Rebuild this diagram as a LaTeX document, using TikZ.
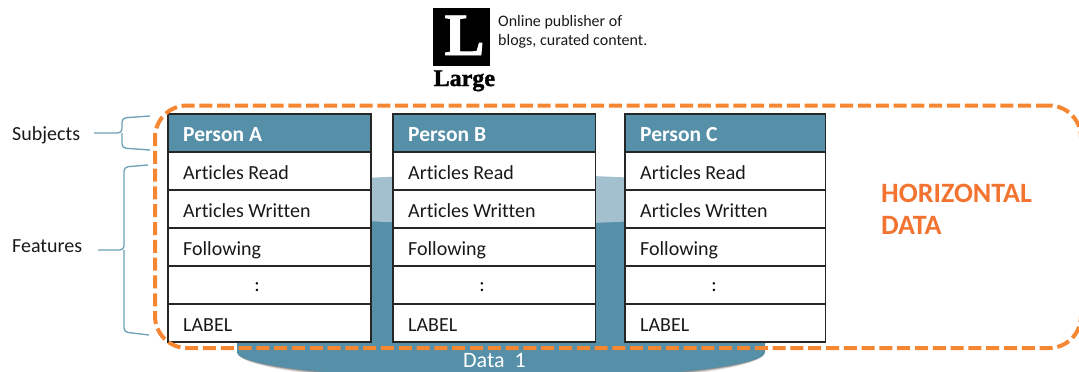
\documentclass[tikz,border=0pt]{standalone}
\usepackage{fontspec}
\setmainfont[RawFeature=-liga]{Carlito}
\newfontfamily\logoheavy[FakeBold=1.5]{Liberation Serif Bold}
\definecolor{teal1}{HTML}{568FA8}
\definecolor{tealL}{HTML}{A2C0CE}
\definecolor{orange1}{HTML}{F58733}
\definecolor{orangeT}{HTML}{F37430}
\definecolor{brace1}{HTML}{6BA0B6}
\tikzset{
  cell/.style={draw=black!85,line width=1.1pt,fill=white,minimum height=38pt,inner sep=0pt,outer sep=0pt,anchor=north west},
  celltext/.style={font=\fontsize{20}{22}\selectfont,text=black!90,anchor=base west,inner sep=0pt},
  headtext/.style={font=\fontsize{21.5}{22}\selectfont\bfseries,text=white,anchor=base west,inner sep=0pt},
  bracket/.style={draw=brace1,line width=1.3pt,rounded corners=4pt},
  label/.style={font=\fontsize{20}{22}\selectfont,text=black!90,anchor=base west,inner sep=0pt},
}
\begin{document}
\begin{tikzpicture}[x=1pt,y=-1pt]
\useasboundingbox (0,0) rectangle (1079,372);
\clip (0,0) rectangle (1079,372);
% cylinder
\foreach \o/\ow in {5/.06,4/.08,3/.10,2/.14,1/.18}{
  \fill[black,opacity=\ow] (237,352) arc[start angle=180,end angle=0,x radius=264,y radius={27+\o}] -- cycle;
}
\fill[teal1] (237,199) -- (237,352) arc[start angle=180,end angle=0,x radius=264,y radius=27] -- (765,199) -- cycle;
\fill[tealL] (501,199.5) ellipse[x radius=264,y radius=25];
% tables
\foreach \t/\x/\cw/\name in {a/168/203/Person A,b/393/202.5/Person B,c/625/200.5/Person C}{
  \node[cell,minimum width=\cw pt,fill=teal1] (\t0) at (\x,114) {};
  \node[cell,minimum width=\cw pt,anchor=north] (\t1) at (\t0.south) {};
  \node[cell,minimum width=\cw pt,anchor=north] (\t2) at (\t1.south) {};
  \node[cell,minimum width=\cw pt,anchor=north] (\t3) at (\t2.south) {};
  \node[cell,minimum width=\cw pt,anchor=north] (\t4) at (\t3.south) {};
  \node[cell,minimum width=\cw pt,anchor=north] (\t5) at (\t4.south) {};
  \node[headtext] (\t h) at ([xshift=15pt,yshift=-8pt]\t0.west) {\name};
  \node[celltext] (\t r) at ([xshift=15pt,yshift=-8.5pt]\t1.west) {Articles Read};
  \node[celltext] (\t w) at ([xshift=15pt,yshift=-8.5pt]\t2.west) {Articles Written};
  \node[celltext] (\t f) at ([xshift=15pt,yshift=-8.5pt]\t3.west) {Following};
  \node[font=\fontsize{20}{22}\selectfont,inner sep=0pt] (\t d) at ([xshift=89pt,yshift=-2pt]\t4.west) {:};
  \node[celltext] (\t l) at ([xshift=15pt,yshift=-8.5pt]\t5.west) {LABEL};
}
% dashed frame
\draw[orange1,line width=4pt,dash pattern=on 13pt off 4.8pt,rounded corners=32pt] (1081,105.5) -- (155,105.5) -- (155,348) -- (1081,348) -- cycle;
% data label
\node[font=\fontsize{22}{23}\selectfont,text=white,inner sep=0pt] (data) at (494.5,360.5) {Data\ \ 1};
% logo
\node[fill=black,minimum width=57pt,minimum height=58pt,inner sep=0pt,outer sep=0pt] (logo) at (461.5,37) {};
\node[text=white,font=\logoheavy\fontsize{60}{60}\selectfont,inner sep=0pt,anchor=base] (logoL) at (464.5,55) {L};
\node[font=\logoheavy\fontsize{24}{24}\selectfont,anchor=base west,inner sep=0pt,text=black] (large) at (433.5,86) {Large};
\node[font=\fontsize{16}{19}\selectfont,align=left,anchor=north west,inner sep=0pt,text=black!90] (desc) at (498,15.5) {Online publisher of\\blogs, curated content.};
% side labels
\node[label] (subj) at (12,140.5) {Subjects};
\node[label] (feat) at (12,252) {Features};
\coordinate (s0) at (94,133);
\coordinate (s1) at (150,116);
\coordinate (s2) at (150,150);
\coordinate (f0) at (98,250);
\coordinate (f1) at (148,165);
\coordinate (f2) at (149,335);
\draw[bracket] (s1) -- (122,118) -- (122,133) -- (s0);
\draw[bracket] (s2) -- (122,148) -- (122,133);
\draw[bracket] (f1) -- (124,167) -- (124,250) -- (f0);
\draw[bracket] (f2) -- (124,332) -- (124,250);
% horizontal data
\node[font=\fontsize{28}{32}\selectfont\bfseries,text=orangeT,align=left,anchor=north west,inner sep=0pt] (hd) at (881,184) {HORIZONTAL\\DATA};
\end{tikzpicture}
\end{document}
